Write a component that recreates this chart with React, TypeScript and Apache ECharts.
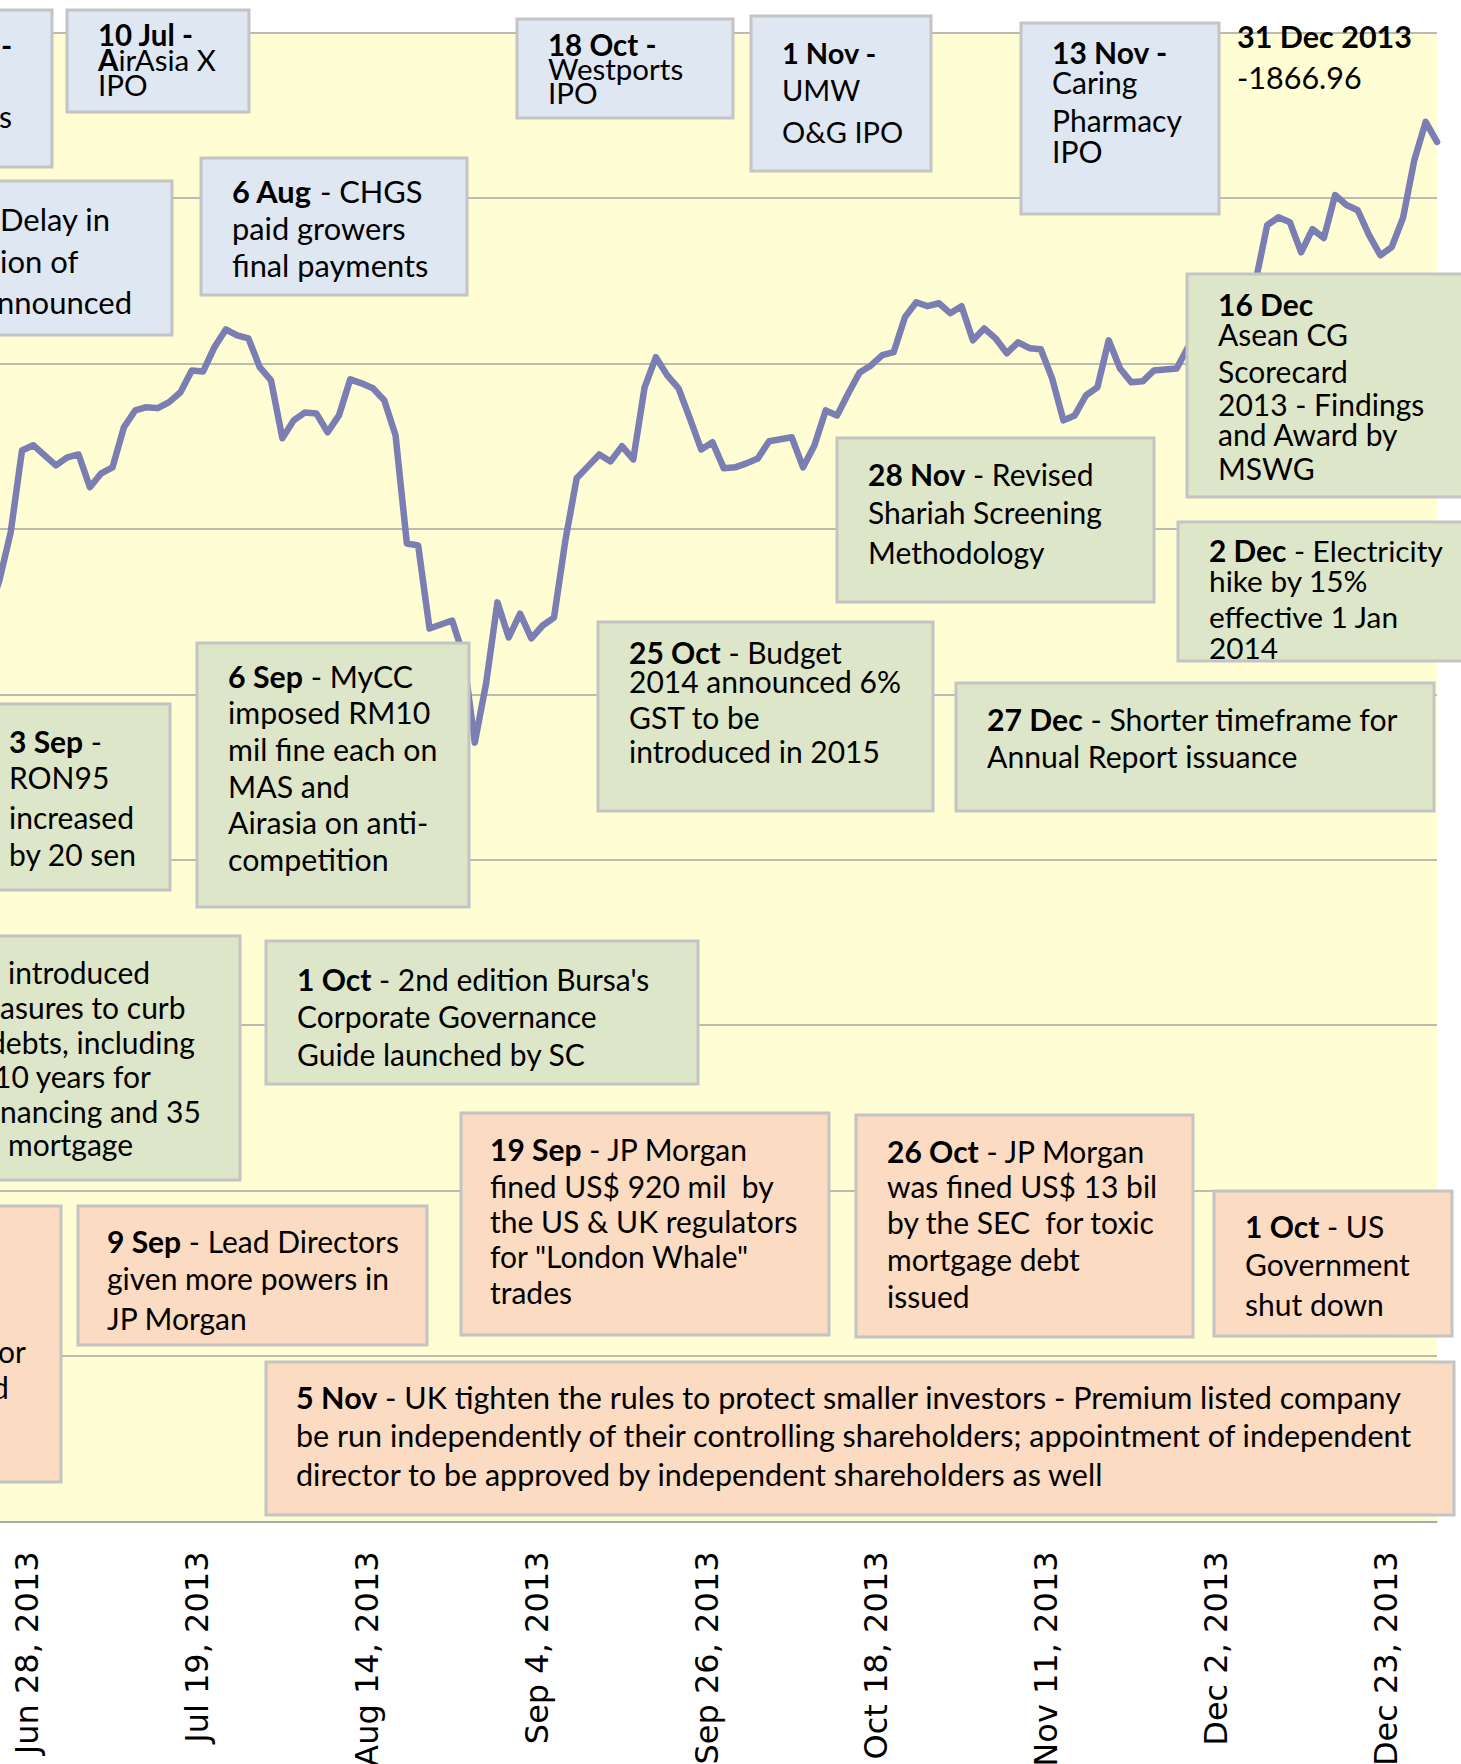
import React, { useEffect, useRef } from "react";
import * as echarts from "echarts";

// Trading days shown on the category axis
const DATES = [
  "Jun 24, 2013", "Jun 25, 2013", "Jun 26, 2013", "Jun 27, 2013", "Jun 28, 2013",
  "Jul 1, 2013", "Jul 2, 2013", "Jul 3, 2013", "Jul 4, 2013", "Jul 5, 2013",
  "Jul 8, 2013", "Jul 9, 2013", "Jul 10, 2013", "Jul 11, 2013", "Jul 12, 2013",
  "Jul 15, 2013", "Jul 16, 2013", "Jul 17, 2013", "Jul 18, 2013", "Jul 19, 2013",
  "Jul 22, 2013", "Jul 23, 2013", "Jul 24, 2013", "Jul 25, 2013", "Jul 26, 2013",
  "Jul 29, 2013", "Jul 30, 2013", "Jul 31, 2013", "Aug 1, 2013", "Aug 2, 2013",
  "Aug 5, 2013", "Aug 6, 2013", "Aug 12, 2013", "Aug 13, 2013", "Aug 14, 2013",
  "Aug 15, 2013", "Aug 16, 2013", "Aug 19, 2013", "Aug 20, 2013", "Aug 21, 2013",
  "Aug 22, 2013", "Aug 23, 2013", "Aug 26, 2013", "Aug 27, 2013", "Aug 28, 2013",
  "Aug 29, 2013", "Aug 30, 2013", "Sep 2, 2013", "Sep 3, 2013", "Sep 4, 2013",
  "Sep 5, 2013", "Sep 6, 2013", "Sep 9, 2013", "Sep 10, 2013", "Sep 11, 2013",
  "Sep 12, 2013", "Sep 13, 2013", "Sep 17, 2013", "Sep 18, 2013", "Sep 19, 2013",
  "Sep 20, 2013", "Sep 23, 2013", "Sep 24, 2013", "Sep 25, 2013", "Sep 26, 2013",
  "Sep 27, 2013", "Sep 30, 2013", "Oct 1, 2013", "Oct 2, 2013", "Oct 3, 2013",
  "Oct 4, 2013", "Oct 7, 2013", "Oct 8, 2013", "Oct 9, 2013", "Oct 10, 2013",
  "Oct 11, 2013", "Oct 14, 2013", "Oct 16, 2013", "Oct 17, 2013", "Oct 18, 2013",
  "Oct 21, 2013", "Oct 22, 2013", "Oct 23, 2013", "Oct 24, 2013", "Oct 25, 2013",
  "Oct 28, 2013", "Oct 29, 2013", "Oct 30, 2013", "Oct 31, 2013", "Nov 1, 2013",
  "Nov 4, 2013", "Nov 6, 2013", "Nov 7, 2013", "Nov 8, 2013", "Nov 11, 2013",
  "Nov 12, 2013", "Nov 13, 2013", "Nov 14, 2013", "Nov 15, 2013", "Nov 18, 2013",
  "Nov 19, 2013", "Nov 20, 2013", "Nov 21, 2013", "Nov 22, 2013", "Nov 25, 2013",
  "Nov 26, 2013", "Nov 27, 2013", "Nov 28, 2013", "Nov 29, 2013", "Dec 2, 2013",
  "Dec 3, 2013", "Dec 4, 2013", "Dec 5, 2013", "Dec 6, 2013", "Dec 9, 2013",
  "Dec 10, 2013", "Dec 11, 2013", "Dec 12, 2013", "Dec 13, 2013", "Dec 16, 2013",
  "Dec 17, 2013", "Dec 18, 2013", "Dec 19, 2013", "Dec 20, 2013", "Dec 23, 2013",
  "Dec 24, 2013", "Dec 26, 2013", "Dec 27, 2013", "Dec 30, 2013", "Dec 31, 2013",
];

// Index close
const KLCI = [
  1728.4, 1723.8, 1734.4, 1748.9, 1773.7,
  1775.3, 1772.2, 1769.2, 1771.6, 1772.5,
  1762.6, 1766.8, 1768.6, 1780.7, 1785.8,
  1786.8, 1786.5, 1788.3, 1791.3, 1797.9,
  1797.6, 1804.9, 1810.3, 1808.5, 1807.6,
  1798.9, 1794.9, 1777.4, 1782.8, 1785.2,
  1784.9, 1779.2, 1784.3, 1795.2, 1794.0,
  1792.5, 1788.9, 1778.3, 1745.6, 1745.0,
  1719.9, 1721.1, 1722.3, 1711.7, 1685.4,
  1703.3, 1727.8, 1717.2, 1724.4, 1716.9,
  1720.8, 1723.2, 1746.5, 1765.3, 1768.9,
  1772.5, 1770.4, 1775.0, 1771.0, 1792.8,
  1801.9, 1796.4, 1792.5, 1783.4, 1774.0,
  1776.2, 1768.3, 1768.6, 1769.8, 1771.3,
  1776.5, 1777.1, 1777.7, 1768.6, 1775.2,
  1785.8, 1784.3, 1791.0, 1797.3, 1799.4,
  1802.5, 1803.4, 1814.0, 1818.5, 1817.3,
  1818.2, 1815.2, 1817.3, 1807.0, 1810.6,
  1807.6, 1803.1, 1806.4, 1804.6, 1804.3,
  1795.5, 1782.8, 1784.3, 1790.4, 1792.8,
  1807.0, 1798.5, 1794.3, 1794.6, 1797.9,
  1798.2, 1798.5, 1804.9, 1809.1, 1813.1,
  1813.7, 1817.6, 1820.3, 1825.2, 1841.8,
  1844.2, 1842.7, 1833.6, 1840.6, 1837.9,
  1850.9, 1847.9, 1846.3, 1838.8, 1832.7,
  1835.2, 1844.0, 1861.5, 1873.0, 1866.96,
];

const TICK_LABELS = [
  "Jun 28, 2013", "Jul 19, 2013", "Aug 14, 2013", "Sep 4, 2013", "Sep 26, 2013",
  "Oct 18, 2013", "Nov 11, 2013", "Dec 2, 2013", "Dec 23, 2013",
];

const Y_MIN = 1450;
const Y_MAX = 1900;
const Y_STEP = 50;

const BLUE = "#DFE7F2";
const GREEN = "#DDE6C9";
const ORANGE = "#FBDBC1";
const FONT = "Lato, 'Open Sans', sans-serif";

type Line = [number, string, number?];
type Ann = { fill?: string; x: number; y: number; w: number; h: number; tx: number; fs: number; lines: Line[] };

// Annotation call-outs (layout only)
const ANNOTATIONS: Ann[] = [
  { fill: BLUE, x: -10, y: 10, w: 62, h: 157, tx: 1, fs: 30, lines: [[56, "{b|-}"], [127, "s", -1]] },
  { fill: BLUE, x: 67, y: 10, w: 182, h: 102, tx: 98, fs: 29.5, lines: [[45, "{b|10 Jul -}"], [70, "{b|A}irAsia X"], [95, "IPO"]] },
  { fill: BLUE, x: 517, y: 19, w: 216, h: 99, tx: 548, fs: 29.5, lines: [[55, "{b|18 Oct -}"], [79, "Westports"], [103, "IPO"]] },
  { fill: BLUE, x: 751, y: 16, w: 180, h: 155, tx: 782, fs: 29, lines: [[63, "{b|1 Nov -}"], [100, "UMW"], [142, "O&G IPO"]] },
  { fill: BLUE, x: 1021, y: 23, w: 198, h: 191, tx: 1052, fs: 30, lines: [[63, "{b|13 Nov -}"], [93, "Caring"], [131, "Pharmacy"], [162, "IPO"]] },
  { x: 0, y: 0, w: 0, h: 0, tx: 1237, fs: 30.5, lines: [[47, "{b|31 Dec 2013}"], [88, "-1866.96"]] },
  { fill: BLUE, x: -10, y: 181, w: 182, h: 154, tx: 0, fs: 31, lines: [[230, "Delay in"], [272, "ion of"], [313, "nnounced", -3]] },
  { fill: BLUE, x: 201, y: 158, w: 266, h: 137, tx: 232, fs: 30.8, lines: [[203, "{b|6 Aug} - CHGS"], [240, "paid growers"], [277, "final payments"]] },
  { fill: GREEN, x: 1187, y: 274, w: 290, h: 223, tx: 1218, fs: 30, lines: [[315, "{b|16 Dec}"], [345, "Asean CG"], [382, "Scorecard"], [415, "2013 - Findings"], [445, "and Award by"], [479, "MSWG"]] },
  { fill: GREEN, x: 837, y: 438, w: 317, h: 164, tx: 868, fs: 30, lines: [[485, "{b|28 Nov} - Revised"], [523, "Shariah Screening"], [563, "Methodology"]] },
  { fill: GREEN, x: 1178, y: 522, w: 300, h: 139, tx: 1209, fs: 29.8, lines: [[562, "{b|2 Dec} - Electricity"], [592, "hike by 15%"], [628, "effective 1 Jan"], [659, "2014"]] },
  { fill: GREEN, x: -10, y: 704, w: 180, h: 186, tx: 9, fs: 30, lines: [[752, "{b|3 Sep} -"], [788, "RON95"], [828, "increased"], [865, "by 20 sen"]] },
  { fill: GREEN, x: 197, y: 643, w: 272, h: 264, tx: 228, fs: 30.3, lines: [[687, "{b|6 Sep} - MyCC"], [723, "imposed RM10"], [760, "mil fine each on"], [797, "MAS and"], [833, "Airasia on anti-"], [870, "competition"]] },
  { fill: GREEN, x: 598, y: 622, w: 335, h: 189, tx: 629, fs: 30, lines: [[663, "{b|25 Oct} - Budget"], [692, "2014 announced 6%"], [728, "GST to be"], [762, "introduced in 2015"]] },
  { fill: GREEN, x: 956, y: 683, w: 478, h: 128, tx: 987, fs: 30.2, lines: [[730, "{b|27 Dec} - Shorter timeframe for"], [767, "Annual Report issuance"]] },
  { fill: GREEN, x: -10, y: 936, w: 250, h: 244, tx: 0, fs: 30, lines: [[983, "introduced", 8], [1018, "asures to curb"], [1053, "debts, including", -11], [1087, "10 years for", -6], [1122, "nancing and 35"], [1155, "mortgage", 8]] },
  { fill: GREEN, x: 266, y: 941, w: 432, h: 143, tx: 297, fs: 30, lines: [[990, "{b|1 Oct} - 2nd edition Bursa's"], [1027, "Corporate Governance"], [1065, "Guide launched by SC"]] },
  { fill: ORANGE, x: -10, y: 1206, w: 71, h: 276, tx: 0, fs: 30, lines: [[1362, "or", -2], [1398, "d", -8]] },
  { fill: ORANGE, x: 78, y: 1206, w: 349, h: 139, tx: 107, fs: 30, lines: [[1252, "{b|9 Sep} - Lead Directors"], [1289, "given more powers in"], [1329, "JP Morgan"]] },
  { fill: ORANGE, x: 461, y: 1113, w: 368, h: 222, tx: 490, fs: 30, lines: [[1160, "{b|19 Sep} - JP Morgan"], [1197, "fined US$ 920 mil  by"], [1232, "the US & UK regulators"], [1267, "for \"London Whale\""], [1303, "trades"]] },
  { fill: ORANGE, x: 856, y: 1115, w: 337, h: 222, tx: 887, fs: 30, lines: [[1162, "{b|26 Oct} - JP Morgan"], [1197, "was fined US$ 13 bil"], [1233, "by the SEC  for toxic"], [1270, "mortgage debt"], [1307, "issued"]] },
  { fill: ORANGE, x: 1214, y: 1191, w: 238, h: 145, tx: 1245, fs: 30, lines: [[1237, "{b|1 Oct} - US"], [1275, "Government"], [1315, "shut down"]] },
  { fill: ORANGE, x: 266, y: 1362, w: 1188, h: 153, tx: 296, fs: 30.5, lines: [[1408, "{b|5 Nov} - UK tighten the rules to protect smaller investors - Premium listed company"], [1446, "be run independently of their controlling shareholders; appointment of independent"], [1485, "director to be approved by independent shareholders as well"]] },
];

function buildGraphics() {
  const els: any[] = [];
  ANNOTATIONS.forEach((a) => {
    if (a.fill) {
      els.push({
        type: "rect",
        z: 100,
        shape: { x: a.x, y: a.y, width: a.w, height: a.h },
        style: { fill: a.fill, stroke: "#C4C4C4", lineWidth: 3 },
      });
    }
    a.lines.forEach(([base, text, lx]) => {
      els.push({
        type: "text",
        z: 101,
        x: lx !== undefined ? lx : a.tx,
        y: base - 0.37 * a.fs,
        style: {
          text,
          fill: "#000",
          fontFamily: FONT,
          fontSize: a.fs,
          lineHeight: Math.round(a.fs * 0.8),
          align: "left",
          verticalAlign: "middle",
          rich: {
            b: { fontWeight: "bold", fontFamily: FONT, fontSize: a.fs, lineHeight: Math.round(a.fs * 0.8), fill: "#000" },
          },
        },
      });
    });
  });
  return els;
}

export default function App() {
  const ref = useRef<HTMLDivElement>(null);
  useEffect(() => {
    if (!ref.current) return;
    const chart = echarts.init(ref.current, undefined, { renderer: "svg" });
    const tickSet = new Set(TICK_LABELS);
    chart.setOption({
      animation: false,
      grid: {
        left: -23.3,
        right: 24,
        top: 32.6,
        bottom: 242.5,
        show: true,
        backgroundColor: "#FFFDD3",
        borderWidth: 0,
        containLabel: false,
        outerBoundsMode: "none",
      },
      xAxis: {
        type: "category",
        data: DATES,
        boundaryGap: false,
        axisTick: { show: false },
        axisLine: { show: true, lineStyle: { color: "#A5A5A5", width: 1.5 } },
        splitLine: { show: false },
        axisLabel: {
          rotate: 90,
          margin: 30,
          verticalAlign: "top",
          lineHeight: 11,
          interval: (_i: number, v: string) => tickSet.has(v),
          fontFamily: "'DejaVu Sans', sans-serif",
          fontSize: 32,
          color: "#000",
        },
      },
      yAxis: {
        type: "value",
        min: Y_MIN,
        max: Y_MAX,
        interval: Y_STEP,
        axisLabel: { show: false },
        axisLine: { show: false },
        axisTick: { show: false },
        splitLine: { show: true, lineStyle: { color: "#A5A5A5", width: 1.5 } },
      },
      series: [
        {
          type: "line",
          data: KLCI,
          symbol: "none",
          clip: true,
          lineStyle: { color: "#7B7EB2", width: 6.5, join: "round", cap: "round" },
        },
      ],
      graphic: buildGraphics(),
    });
    return () => chart.dispose();
  }, []);
  return <div ref={ref} style={{ position: "absolute", left: 0, top: 0, width: 1461, height: 1764 }} />;
}
